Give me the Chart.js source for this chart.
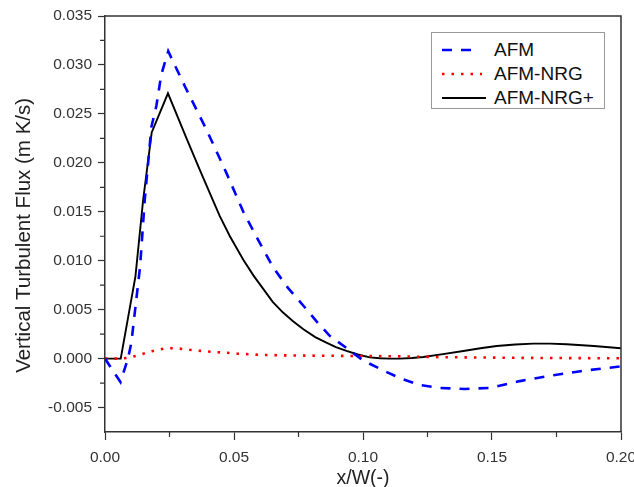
<!DOCTYPE html>
<html>
<head>
<meta charset="utf-8">
<script src="https://cdn.jsdelivr.net/npm/chart.js@4.4.1/dist/chart.umd.min.js"></script>
<style>
  html, body { margin: 0; padding: 0; background: #fff; }
  #wrap { position: relative; width: 634px; height: 487px; }
  #legend { position: absolute; left: 431px; top: 32px; width: 172px; height: 75px;
            border: 1px solid #999; background: #fff; font-family: "Liberation Sans", Arial, sans-serif;
            font-size: 19px; color: #111; }
  .row { position: absolute; left: 0; height: 24px; width: 172px; }
  .row svg { position: absolute; left: 10px; top: 0; }
  .row span { position: absolute; left: 62px; top: 1px; line-height: 22px; white-space: nowrap; }
</style>
</head>
<body>
<div id="wrap">
  <canvas id="c"></canvas>
  <div id="legend"></div>
</div>
<script>
// ---- data ----
const seriesNames = ['AFM', 'AFM-NRG', 'AFM-NRG+'];

const afmX = [0, 0.003, 0.006, 0.0089, 0.0102, 0.0136, 0.0154, 0.018, 0.0199, 0.0218, 0.0245, 0.031, 0.0393, 0.047, 0.0536, 0.0594, 0.0652, 0.0710, 0.0769, 0.0820, 0.0872, 0.0935, 0.1001, 0.1078, 0.1143, 0.122, 0.1298, 0.1395, 0.1492, 0.1608, 0.1738, 0.1867, 0.200];
const afmY = [0, -0.0012, -0.0024, 0.0, 0.0016, 0.0094, 0.0162, 0.0237, 0.0258, 0.0290, 0.0314, 0.0278, 0.0234, 0.0190, 0.0150, 0.0121, 0.0093, 0.0072, 0.0054, 0.0038, 0.0023, 0.0011, -0.0002, -0.0012, -0.0020, -0.0027, -0.0030, -0.0031, -0.0030, -0.0023, -0.0017, -0.0012, -0.0008];

const nrgX = [0, 0.006, 0.0096, 0.0141, 0.0186, 0.0235, 0.0279, 0.0326, 0.0374, 0.0419, 0.0468, 0.0513, 0.056, 0.06, 0.07, 0.08, 0.09, 0.10, 0.11, 0.12, 0.13, 0.14, 0.15, 0.16, 0.17, 0.18, 0.19, 0.20];
const nrgY = [0, 0, 0.0001, 0.00044, 0.00078, 0.00105, 0.00105, 0.00090, 0.00078, 0.00068, 0.0006, 0.0005, 0.00044, 0.00038, 0.00033, 0.0003, 0.00028, 0.00026, 0.00024, 0.0002, 0.00015, 0.00012, 0.0001, 0.00008, 0.00006, 0.00005, 0.00004, 0.00003];

const nrgpX = [0, 0.0061, 0.0118, 0.0148, 0.0181, 0.0244, 0.0316, 0.0367, 0.0444, 0.0484, 0.0536, 0.0575, 0.0614, 0.065, 0.069, 0.073, 0.0769, 0.0815, 0.0858, 0.0895, 0.0936, 0.098, 0.1026, 0.1066, 0.1103, 0.1143, 0.119, 0.1234, 0.131, 0.1389, 0.1455, 0.1518, 0.159, 0.166, 0.1725, 0.1789, 0.1895, 0.200];
const nrgpY = [0, 0, 0.0084, 0.01625, 0.0231, 0.0271, 0.0225, 0.0193, 0.0146, 0.0125, 0.0101, 0.0085, 0.0071, 0.0058, 0.0047, 0.0038, 0.0030, 0.0022, 0.00163, 0.00118, 0.00078, 0.00042, 0.00012, 0.00003, 0.0, 0.0, 0.00006, 0.00016, 0.00045, 0.00078, 0.00105, 0.00128, 0.00144, 0.00153, 0.00153, 0.00146, 0.00128, 0.00105];

const xTicks = [0, 0.05, 0.10, 0.15, 0.20];
const xMinor = [0.025, 0.075, 0.125, 0.175];
const yTicks = [-0.005, 0, 0.005, 0.010, 0.015, 0.020, 0.025, 0.030, 0.035];
const yMinor = [-0.0025, 0.0025, 0.0075, 0.0125, 0.0175, 0.0225, 0.0275, 0.0325];

const xTitle = 'x/W(-)';
const yTitle = 'Vertical Turbulent Flux (m K/s)';

// ---- build ----
const zip = (xs, ys) => xs.map((x, i) => ({ x: x, y: ys[i] }));
const FONT = '"Liberation Sans", Arial, sans-serif';
const AX = '#333';

const styles = [
  { color: '#0000ff', width: 2.6, dash: [10, 9], sample: 31 },
  { color: '#ff0000', width: 2.6, dash: [2.5, 7], sample: 40 },
  { color: '#000000', width: 1.9, dash: [], sample: 44 }
];

const frame = {
  id: 'frame',
  afterDraw(chart) {
    const { ctx, chartArea: a, scales } = chart;
    ctx.save();
    ctx.strokeStyle = AX;
    ctx.lineWidth = 1.5;
    ctx.beginPath();
    ctx.moveTo(a.left, a.top); ctx.lineTo(a.right, a.top); ctx.lineTo(a.right, a.bottom);
    ctx.stroke();
    ctx.lineWidth = 1.2;
    ctx.beginPath();
    xMinor.forEach(v => { const p = scales.x.getPixelForValue(v); ctx.moveTo(p, a.bottom); ctx.lineTo(p, a.bottom + 5); });
    yMinor.forEach(v => { const p = scales.y.getPixelForValue(v); ctx.moveTo(a.left, p); ctx.lineTo(a.left - 5, p); });
    ctx.stroke();
    ctx.restore();
  }
};

new Chart(document.getElementById('c'), {
  type: 'line',
  data: {
    datasets: [zip(afmX, afmY), zip(nrgX, nrgY), zip(nrgpX, nrgpY)].map((d, i) => ({
      label: seriesNames[i], data: d,
      borderColor: styles[i].color, borderWidth: styles[i].width, borderDash: styles[i].dash,
      pointRadius: 0, tension: 0, fill: false
    }))
  },
  options: {
    responsive: true, maintainAspectRatio: false, animation: false,
    layout: { padding: { top: 16, right: 13, left: 0, bottom: 0 } },
    plugins: { legend: { display: false }, tooltip: { enabled: false } },
    scales: {
      x: {
        type: 'linear', min: 0, max: 0.2,
        afterBuildTicks: s => { s.ticks = xTicks.map(v => ({ value: v })); },
        afterFit: s => { s.height = 55; s.paddingRight = 0; s.paddingLeft = 0; },
        ticks: { callback: v => v.toFixed(2), font: { family: FONT, size: 15.5 }, color: '#333', padding: 8, maxRotation: 0, autoSkip: false },
        grid: { drawOnChartArea: false, drawTicks: true, tickLength: 8, tickColor: AX, tickWidth: 1.2 },
        border: { color: AX, width: 1.5 },
        title: { display: true, text: xTitle, font: { family: FONT, size: 19.5 }, color: '#222', padding: { top: 4, bottom: -3 } }
      },
      y: {
        type: 'linear', min: -0.0075, max: 0.035,
        afterBuildTicks: s => { s.ticks = yTicks.map(v => ({ value: v })); },
        afterFit: s => { s.width = 105; s.paddingTop = 0; s.paddingBottom = 0; },
        ticks: { callback: v => v.toFixed(3), font: { family: FONT, size: 15.5 }, color: '#333', padding: 6, autoSkip: false },
        grid: { drawOnChartArea: false, drawTicks: true, tickLength: 7, tickColor: AX, tickWidth: 1.2 },
        border: { color: AX, width: 1.5 },
        title: { display: true, text: yTitle + '\u00a0\u00a0\u00a0\u00a0', font: { family: FONT, size: 20.5 }, color: '#222', padding: { top: 12, bottom: 0 } }
      }
    }
  },
  plugins: [frame]
});

// ---- legend (HTML text) ----
const lg = document.getElementById('legend');
const rowTops = [5, 29, 53];
seriesNames.forEach((name, i) => {
  const r = document.createElement('div');
  r.className = 'row';
  r.style.top = rowTops[i] + 'px';
  const st = styles[i];
  const dash = st.dash.length ? 'stroke-dasharray="' + st.dash.join(',') + '"' : '';
  r.innerHTML = '<svg width="44" height="24"><line x1="0" y1="12" x2="' + st.sample + '" y2="12" stroke="' + st.color +
    '" stroke-width="' + st.width + '" ' + dash + '/></svg><span>' + name + '</span>';
  lg.appendChild(r);
});
</script>
</body>
</html>
